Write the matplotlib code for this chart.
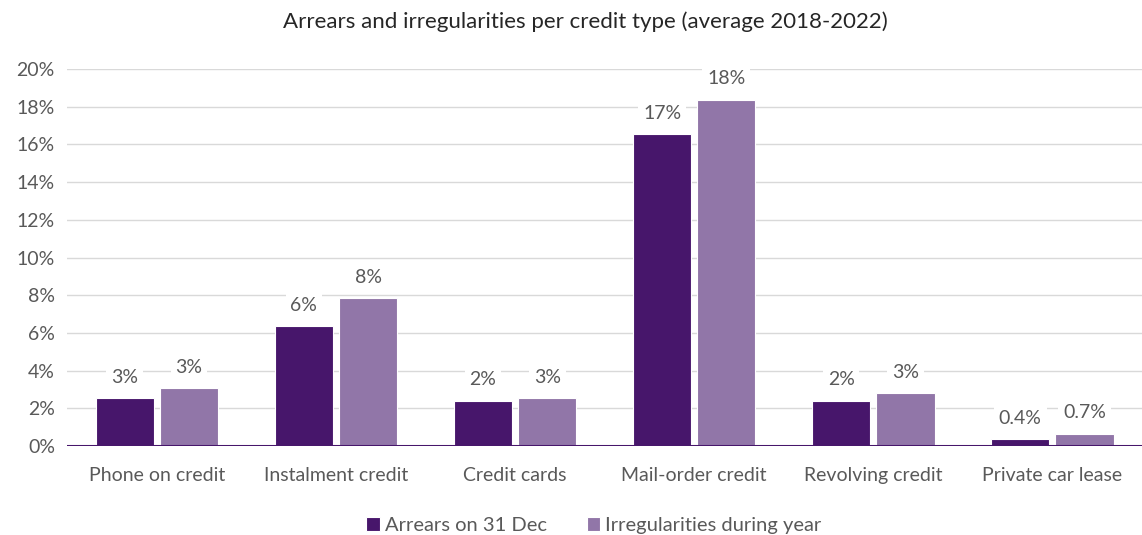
import numpy as np
import matplotlib.pyplot as plt

plt.rcParams['font.family'] = ['Lato', 'DejaVu Sans']

credit_types = ['Phone on credit', 'Instalment credit', 'Credit cards',
                'Mail-order credit', 'Revolving credit', 'Private car lease']
arrears = [2.55, 6.37, 2.4, 16.55, 2.4, 0.38]
irregular = [3.08, 7.85, 2.55, 18.36, 2.82, 0.66]
yticks = [0, 2, 4, 6, 8, 10, 12, 14, 16, 18, 20]

dark = '#47166b'
light = '#9176a8'
grey_text = '#595959'


def fmt(v):
    return f'{v:.1f}%' if v < 1 else f'{v:.0f}%'


fig = plt.figure(figsize=(11.42, 5.35), dpi=100)
ax = fig.add_axes([0.059, 0.166, 0.941, 0.705])

x = np.arange(len(credit_types))
w = 0.325
gap = 0.017
b1 = ax.bar(x - w / 2 - gap, arrears, w, color=dark, edgecolor='white', linewidth=0.8,
            label='Arrears on 31 Dec', zorder=3)
b2 = ax.bar(x + w / 2 + gap, irregular, w, color=light, edgecolor='white', linewidth=0.8,
            label='Irregularities during year', zorder=3)

for bars, vals in ((b1, arrears), (b2, irregular)):
    for r, v in zip(bars, vals):
        ax.annotate(fmt(v), (r.get_x() + r.get_width() / 2, v), xytext=(0, 9),
                    textcoords='offset points', ha='center', va='bottom',
                    fontsize=14, color=grey_text, zorder=4,
                    bbox=dict(boxstyle='square,pad=0.25', fc='white', ec='none'))

ax.set_xlim(-0.5, len(credit_types) - 0.5)
ax.set_ylim(0, 20)
ax.set_yticks(yticks)
ax.set_yticklabels([f'{t}%' for t in yticks])
ax.set_xticks(x)
ax.set_xticklabels(credit_types)
ax.grid(axis='y', color='#d9d9d9', linewidth=1, zorder=0)
ax.axhline(0, color=dark, linewidth=2.2, zorder=5)
for s in ax.spines.values():
    s.set_visible(False)
ax.tick_params(length=0, labelsize=14, labelcolor=grey_text)
ax.tick_params(axis='x', pad=15)
ax.tick_params(axis='y', pad=9)

fig.suptitle('Arrears and irregularities per credit type (average 2018-2022)',
             x=0.513, y=0.978, va='top', fontsize=16, color='#262626')

fig.legend(handles=[b1, b2], loc='lower center', bbox_to_anchor=(0.52, -0.032),
           ncol=2, frameon=False, fontsize=14.5, handlelength=0.65, handleheight=0.65,
           handletextpad=0.25, columnspacing=2.0, labelcolor=grey_text)

fig.savefig('out.png', dpi=100)
